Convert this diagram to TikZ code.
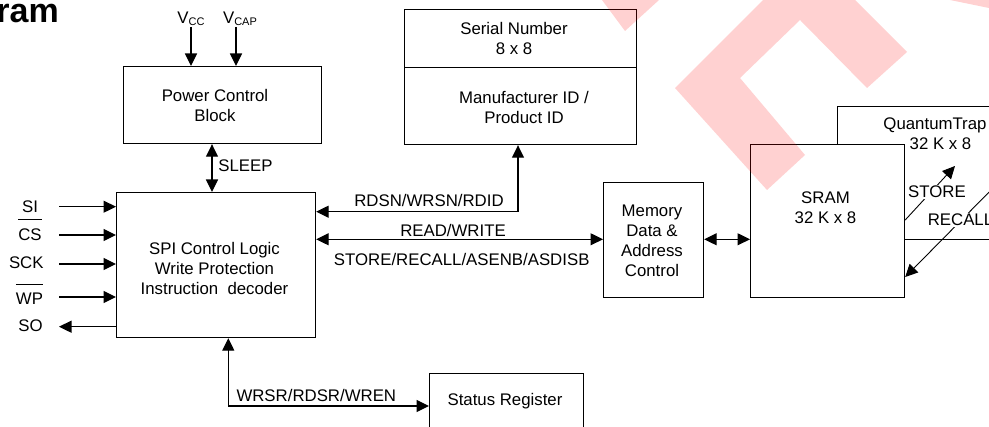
\documentclass[tikz,border=0pt]{standalone}
\usepackage{fontspec}
\setmainfont{Liberation Sans}
\usetikzlibrary{arrows.meta}
\begin{document}
\begin{tikzpicture}[x=1pt,y=-1pt,
  >={Triangle[length=12.5pt,width=12pt]},
  box/.style={draw, line width=1.2pt, fill=white, inner sep=0pt, anchor=north west},
  txt/.style={font=\fontsize{16.8}{20}\selectfont, inner sep=0pt, align=center},
  wtxt/.style={txt, fill=white, inner sep=1pt},
  conn/.style={->, line width=1.2pt},
  dconn/.style={<->, line width=1.2pt},
  thin/.style={->, line width=0.9pt},
  ovl/.style={line width=1pt},
  wm/.style={fill=red, fill opacity=0.18, draw=none}]
\useasboundingbox (0,0) rectangle (989,427);
\clip (0,0) rectangle (989,427);

\node[font=\fontsize{34}{34}\selectfont\bfseries, anchor=base east, inner sep=0pt] (title) at (59,22.5) {ram};

% boxes
\node[box, minimum width=198pt, minimum height=77pt] (pwr) at (123,66) {};
\node[txt] (pwrt) at (215,105) {Power Control\\Block};

\node[box, minimum width=232pt, minimum height=58pt] (sn) at (404,9) {};
\node[box, minimum width=232pt, minimum height=77pt] (mid) at (404,67) {};
\node[txt] (snt) at (514,38.5) {Serial Number\\8 x 8};
\node[txt] (midt) at (524,107) {Manufacturer ID /\\Product ID};

\node[box, minimum width=199pt, minimum height=145pt] (spi) at (116,192) {};
\node[txt] (spit) at (214.5,268.5) {SPI Control Logic\\Write Protection\\Instruction\ \ decoder};

\node[box, minimum width=100pt, minimum height=115pt] (mem) at (603,182) {};
\node[txt] (memt) at (652,241) {Memory\\Data \&\\Address\\Control};

\node[box, minimum width=180pt, minimum height=133.3pt] (qt) at (837,106) {};
\node[txt] (qtt) at (935,134) {QuantumTrap\\\hspace*{11pt}32 K x 8};

\node[box, minimum width=154pt, minimum height=153pt] (sram) at (750,144) {};
\node[txt] (sramt) at (825.5,208) {SRAM\\32 K x 8};

\node[box, minimum width=154pt, minimum height=80pt] (stat) at (429,373) {};
\node[txt] (statt) at (505,401) {Status Register};

% power inputs
\coordinate (vccs) at (191,27);
\coordinate (vcaps) at (236,27);
\draw[conn] (vccs) -- (vccs |- pwr.north);
\draw[conn] (vcaps) -- (vcaps |- pwr.north);
\node[txt, anchor=base] (vcc) at (191,23.3) {V\raisebox{-2.5pt}{\fontsize{11}{11}\selectfont CC}};
\node[txt, anchor=base] (vcap) at (240,23.3) {V\raisebox{-2.5pt}{\fontsize{11}{11}\selectfont CAP}};

% sleep
\coordinate (slp) at (212,0);
\draw[dconn] (slp |- pwr.south) -- (slp |- spi.north);
\node[txt] (sleep) at (245.5,165.3) {SLEEP};

% SPI pins
\coordinate (si) at (59,206.7);
\coordinate (cs) at (59,235);
\coordinate (sck) at (59,264);
\coordinate (wp) at (59,297);
\coordinate (so) at (59,326.7);
\draw[conn] (si) -- (si -| spi.west);
\draw[conn] (cs) -- (cs -| spi.west);
\draw[conn] (sck) -- (sck -| spi.west);
\draw[conn] (wp) -- (wp -| spi.west);
\draw[conn] (so -| spi.west) -- (so);
\node[txt] (sil) at (30,206.8) {SI};
\node[txt] (csl) at (30,234.8) {CS};
\node[txt] (sckl) at (26.3,263) {SCK};
\node[txt] (wpl) at (29.5,299) {WP};
\node[txt] (sol) at (30.5,326.2) {SO};
\draw[ovl] ([yshift=8.7pt]csl.north west) -- ([yshift=8.7pt]csl.north east);
\draw[ovl] ([yshift=8.7pt]wpl.north west) -- ([yshift=8.7pt]wpl.north east);

% RDSN
\coordinate (rd) at (518,211.7);
\draw[dconn] (rd |- mid.south) -- (rd) -- (rd -| spi.east);
\node[txt] (rdl) at (429,200.3) {RDSN/WRSN/RDID};

% read/write
\coordinate (rw) at (0,239.3);
\draw[dconn] (rw -| spi.east) -- (rw -| mem.west);
\node[txt] (rwl) at (453,230.3) {READ/WRITE};
\node[txt] (strl) at (461.7,259.5) {STORE/RECALL/ASENB/ASDISB};
\draw[dconn] (rw -| mem.east) -- (rw -| sram.west);

% store / recall
\coordinate (st0) at (0,220);
\coordinate (st1) at (955,166);
\draw[thin] (st0 -| sram.east) -- (st1);
\coordinate (rc0) at (1000,181);
\coordinate (rc1) at (0,277);
\draw[thin] (rc0) -- (rc1 -| sram.east);
\node[wtxt] (storel) at (937,191.7) {STORE};
\node[wtxt] (recalll) at (960.5,220) {RECALL};

% status register
\coordinate (wr) at (228.3,406);
\draw[dconn] (wr |- spi.south) -- (wr) -- (wr -| stat.west);
\node[txt] (wrl) at (316.3,395.3) {WRSR/RDSR/WREN};

% watermark
\fill[wm] (602,0) -- (659,0) -- (625,31) -- cycle;
\fill[wm] (763,0) -- (675,88) -- (767,190) -- (805,155) -- (740,78) -- (800,20) -- (867,88) -- (907,52) -- (855,0) -- cycle;
\fill[wm] (950,0) -- (989,0) -- (989,8) -- cycle;
\end{tikzpicture}
\end{document}
